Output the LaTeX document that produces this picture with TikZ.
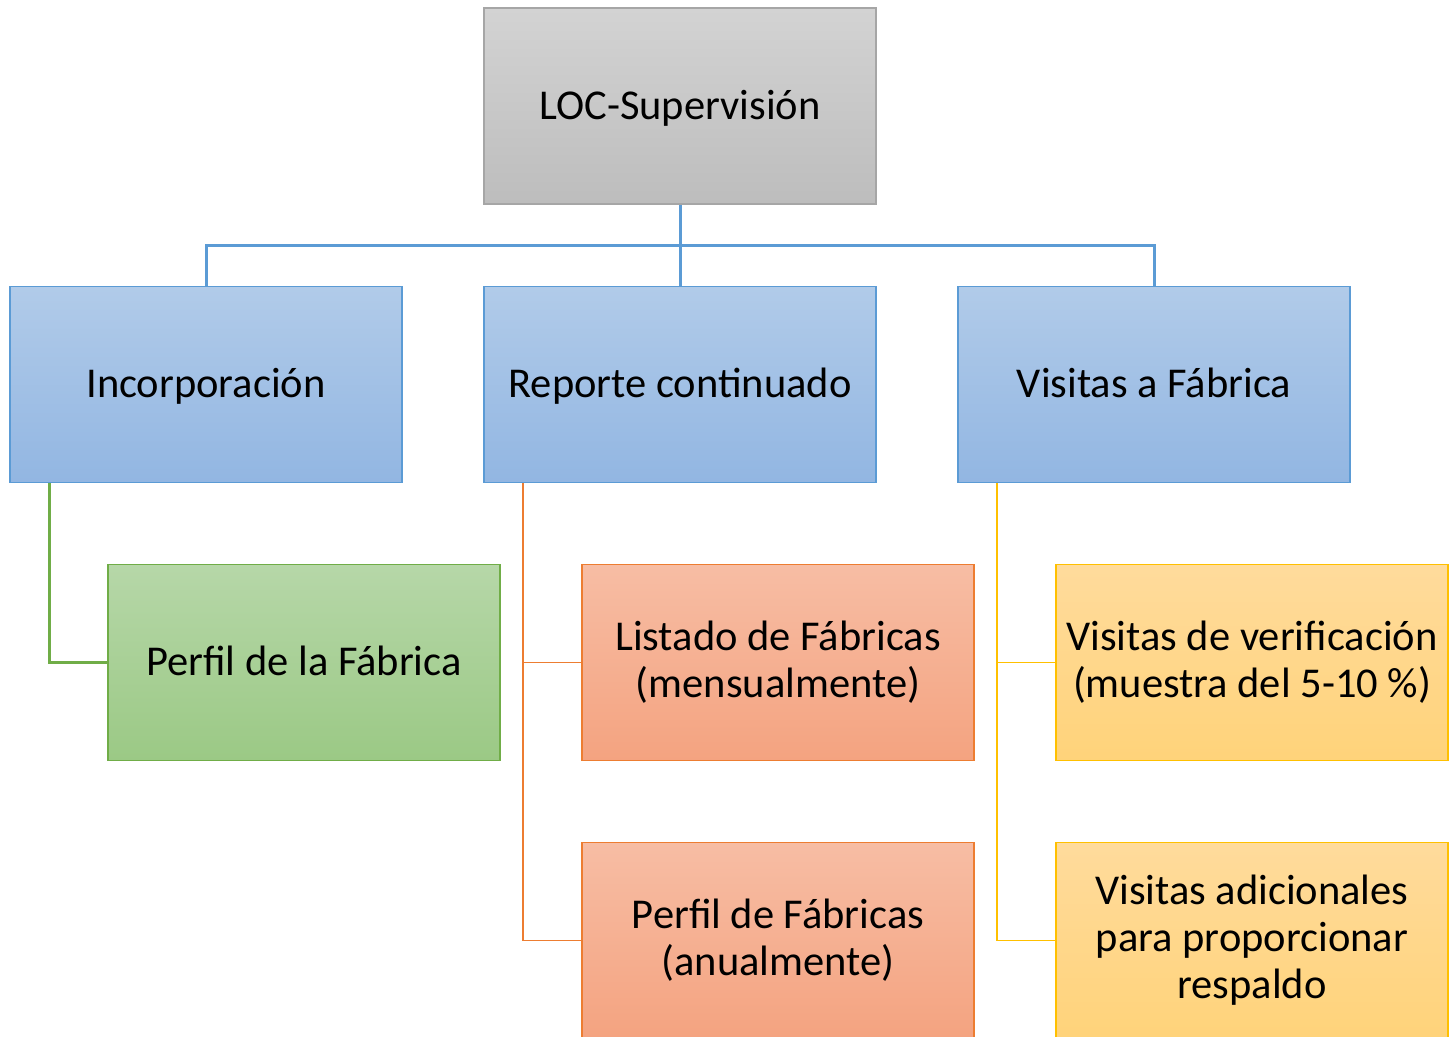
\documentclass[tikz,border=0pt]{standalone}
\usepackage{fontspec}
\setmainfont{Carlito}
\begin{document}
\begin{tikzpicture}[x=1pt,y=-1pt,
  box/.style={draw, line width=1.3pt, minimum width=392pt, minimum height=196pt, inner sep=2pt, align=center, font=\fontsize{42.5}{47}\selectfont, text=black},
  oneline/.style={text height=32pt, text depth=6pt},
  graybox/.style={box, draw=gray!70!white, top color=cGrayT, bottom color=cGrayB},
  bluebox/.style={box, draw=cBlueD, top color=cBlueT, bottom color=cBlueB},
  greenbox/.style={box, draw=cGreenD, top color=cGreenT, bottom color=cGreenB},
  orangebox/.style={box, draw=cOrangeD, top color=cOrangeT, bottom color=cOrangeB},
  yellowbox/.style={box, draw=cYellowD, top color=cYellowT, bottom color=cYellowB},
  blueline/.style={draw=cBlueD, line width=3pt},
  greenline/.style={draw=cGreenD, line width=3pt, line join=miter},
  orangeline/.style={draw=cOrangeD, line width=1.3pt},
  yellowline/.style={draw=cYellowD, line width=1.3pt}
]
\definecolor{cGrayT}{HTML}{D3D3D3}
\definecolor{cGrayB}{HTML}{BDBDBD}
\definecolor{cBlueT}{HTML}{B1CBE9}
\definecolor{cBlueB}{HTML}{92B6E2}
\definecolor{cBlueD}{HTML}{5B9BD5}
\definecolor{cGreenT}{HTML}{B6D7A8}
\definecolor{cGreenB}{HTML}{9BC985}
\definecolor{cGreenD}{HTML}{70AD47}
\definecolor{cOrangeT}{HTML}{F7BDA4}
\definecolor{cOrangeB}{HTML}{F4A380}
\definecolor{cOrangeD}{HTML}{ED7D31}
\definecolor{cYellowT}{HTML}{FFDB9C}
\definecolor{cYellowB}{HTML}{FFD37A}
\definecolor{cYellowD}{HTML}{FFC000}
\useasboundingbox (0,0) rectangle (1455,1036);
\fill[white] (0,0) rectangle (1455,1036);

\coordinate (bus) at (680,245);
\node[graybox, oneline] (top) at (680,106) {LOC-Supervisión};
\node[bluebox, oneline] (inc) at (206,384.5) {Incorporación};
\node[bluebox, oneline] (rep) at (680,384.5) {Reporte continuado};
\node[bluebox, oneline] (vis) at (1154,384.5) {Visitas a Fábrica};
\node[greenbox, oneline] (perfil) at (304,662.5) {Perfil de la Fábrica};
\node[orangebox] (listado) at (778,662.5) {Listado de Fábricas\\(mensualmente)};
\node[orangebox] (perfiles) at (778,940.5) {Perfil de Fábricas\\(anualmente)};
\node[yellowbox] (verif) at (1252,662.5) {Visitas de verificación\\(muestra del 5-10 \%)};
\node[yellowbox] (adic) at (1252,940.5) {Visitas adicionales\\para proporcionar\\respaldo};

\draw[blueline] (top.south) -- (rep.north);
\draw[blueline] (inc.north) |- (bus) -| (vis.north);

\draw[greenline] ([xshift=-157pt]inc.south) |- (perfil.west);
\draw[orangeline] ([xshift=-157pt]rep.south) |- (listado.west);
\draw[orangeline] ([xshift=-157pt]rep.south) |- (perfiles.west);
\draw[yellowline] ([xshift=-157pt]vis.south) |- (verif.west);
\draw[yellowline] ([xshift=-157pt]vis.south) |- (adic.west);
\end{tikzpicture}
\end{document}
